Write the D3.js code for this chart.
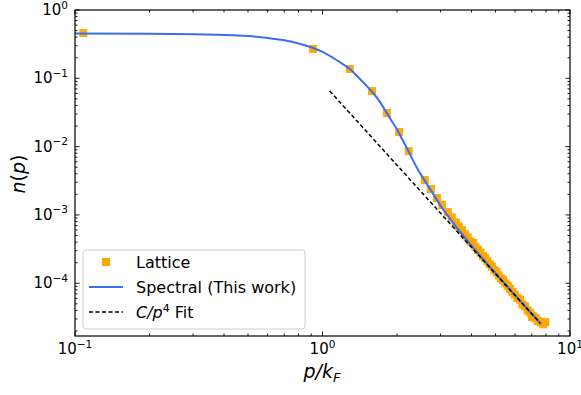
<!DOCTYPE html>
<html>
<head>
<meta charset="utf-8">
<script src="https://cdn.jsdelivr.net/npm/d3@7"></script>
<style>
body{margin:0;background:#fff}
svg{display:block;font-family:"DejaVu Sans",sans-serif}
</style>
</head>
<body>
<div id="chart"></div>
<script>
// lattice data (p/kF, n(p))
const latticeP=[0.108,0.916,1.29,1.585,1.82,2.04,2.23,2.59,2.74,
  2.90,3.04,3.21,3.33,3.46,3.55,3.66,3.76,3.86,3.96,4.06,4.15,4.25,4.35,4.45,4.54,
  4.64,4.74,4.84,4.95,5.05,5.15,5.26,5.36,5.48,5.60,5.72,5.85,5.98,6.12,6.28,6.42,
  6.58,6.74,6.90,7.02,7.08,7.25,7.40,7.58,7.78,7.95];
const latticeN=[0.46,0.269,0.137,0.065,0.031,0.0164,0.0086,0.00324,0.0024,
  0.00177,0.0014,0.0011,0.00092,0.00078,0.00068,0.0006,0.00052,0.00047,0.00041,0.00039,0.00034,0.00031,0.00028,0.00025,0.000235,
  0.00021,0.00019,0.000175,0.000155,0.000145,0.00013,0.000118,0.000112,0.0001,0.000092,0.000083,0.000075,0.000068,0.000061,0.000058,0.000049,
  0.000046,0.00004,0.000037,0.000032,0.000033,0.000031,0.000028,0.000027,0.000025,0.000027];

// spectral curve
const specP=[0.1,0.2,0.3,0.4,0.5,0.6,0.7,0.8,0.9,1.0,1.1,1.2,1.3,1.4,1.5,1.6,1.7,1.8,1.9,2.0,2.1,2.2,2.4,2.6,2.8,3.0,3.3,3.6,4.0,4.5,5.0,5.5,6.0,6.5,7.0,7.64];
const specN=[0.453,0.449,0.443,0.432,0.415,0.39,0.36,0.324,0.285,0.243,0.2,0.164,0.133,0.102,0.079,0.061,0.046,0.033,0.024,0.0178,0.0128,0.0093,0.005,0.0031,0.00203,0.00136,0.000848,0.000563,0.000356,0.000216,0.00014,0.000095,0.0000668,0.0000483,0.0000358,0.0000252];

// C/p^4 fit endpoints
const fitP=[1.07,7.57];
const fitN=[0.0652,0.0000262];

const xTicks=[0.1,1,10];
const yTicks=[1e-4,1e-3,1e-2,1e-1,1];
const xExp=["−1","0","1"];
const yExp=["−4","−3","−2","−1","0"];

const width=581,height=395;
const L=75,R=570,T=10,B=336;

const svg=d3.select('#chart').append('svg')
  .attr('width',width).attr('height',height);

const x=d3.scaleLog().domain([0.1,10]).range([L,R]);
const y=d3.scaleLog().domain([1.69e-5,1]).range([B,T]);

const orange='#ffa500', blue='#3a6ff2';
const fitLine=d3.line().x(d=>x(d[0])).y(d=>y(d[1]));

// lattice squares
svg.append('g').selectAll('rect')
  .data(latticeP.map((p,i)=>[p,latticeN[i]]))
  .join('rect')
  .attr('x',d=>x(d[0])-4).attr('y',d=>y(d[1])-4)
  .attr('width',8).attr('height',8)
  .attr('fill',orange).attr('opacity',0.95);

// spectral line
svg.append('path')
  .datum(specP.map((p,i)=>[p,specN[i]]))
  .attr('d',d3.line().x(d=>x(d[0])).y(d=>y(d[1])).curve(d3.curveMonotoneX))
  .attr('fill','none').attr('stroke',blue).attr('stroke-width',2);

// fit line over the markers
svg.append('path')
  .datum(fitP.map((p,i)=>[p,fitN[i]]))
  .attr('d',fitLine)
  .attr('fill','none').attr('stroke','#000').attr('stroke-width',1.5)
  .attr('stroke-dasharray','4,2.5');

// ticks (inward, all sides)
const isMajor=v=>Math.abs(Math.log10(v)-Math.round(Math.log10(v)))<1e-6;
const tk=svg.append('g').attr('stroke','#000').attr('stroke-width',0.9);
x.ticks().forEach(v=>{
  const len=isMajor(v)?4.5:2.5, px=x(v);
  tk.append('line').attr('x1',px).attr('x2',px).attr('y1',B).attr('y2',B-len);
  tk.append('line').attr('x1',px).attr('x2',px).attr('y1',T).attr('y2',T+len);
});
y.ticks().forEach(v=>{
  const len=isMajor(v)?4.5:2.5, py=y(v);
  tk.append('line').attr('y1',py).attr('y2',py).attr('x1',L).attr('x2',L+len);
  tk.append('line').attr('y1',py).attr('y2',py).attr('x1',R).attr('x2',R-len);
});

// frame
svg.append('rect').attr('x',L).attr('y',T).attr('width',R-L).attr('height',B-T)
  .attr('fill','none').attr('stroke','#000').attr('stroke-width',1.2);

// tick labels
function powLabel(g,exp){
  g.append('tspan').text('10');
  g.append('tspan').attr('dy',-6.5).attr('font-size',10.5).text(exp);
}
xTicks.forEach((v,i)=>{
  const t=svg.append('text').attr('x',x(v)).attr('y',354)
    .attr('text-anchor','middle').attr('font-size',15);
  powLabel(t,xExp[i]);
});
yTicks.forEach((v,i)=>{
  const t=svg.append('text').attr('x',68).attr('y',y(v)+5)
    .attr('text-anchor','end').attr('font-size',15);
  powLabel(t,yExp[i]);
});

// axis labels
const xl=svg.append('text').attr('x',322).attr('y',378)
  .attr('text-anchor','middle').attr('font-size',19).attr('font-style','italic');
xl.append('tspan').text('p/k');
xl.append('tspan').attr('font-size',13).attr('dy',4).text('F');

svg.append('text').attr('transform','translate(25,174) rotate(-90)')
  .attr('text-anchor','middle').attr('font-size',19)
  .html('<tspan font-style="italic">n</tspan>(<tspan font-style="italic">p</tspan>)');

// legend
const lg=svg.append('g');
lg.append('rect').attr('x',83).attr('y',250).attr('width',222).attr('height',79).attr('rx',3)
  .attr('fill','#fff').attr('fill-opacity',0.85).attr('stroke','#cccccc').attr('stroke-width',1);
lg.append('rect').attr('x',102).attr('y',258).attr('width',8).attr('height',8).attr('fill',orange);
lg.append('line').attr('x1',89).attr('x2',123).attr('y1',287).attr('y2',287)
  .attr('stroke',blue).attr('stroke-width',2);
lg.append('line').attr('x1',89).attr('x2',123).attr('y1',312).attr('y2',312)
  .attr('stroke','#000').attr('stroke-width',1.5).attr('stroke-dasharray','4,2.5');
const lfs=16;
lg.append('text').attr('x',136).attr('y',268).attr('font-size',lfs).text('Lattice');
lg.append('text').attr('x',136).attr('y',293).attr('font-size',lfs).text('Spectral (This work)');
const ft=lg.append('text').attr('x',136).attr('y',318).attr('font-size',lfs);
ft.append('tspan').attr('font-style','italic').text('C/p');
ft.append('tspan').attr('dy',-6.5).attr('font-size',11).text('4');
ft.append('tspan').attr('dy',6.5).text(' Fit');
</script>
</body>
</html>
